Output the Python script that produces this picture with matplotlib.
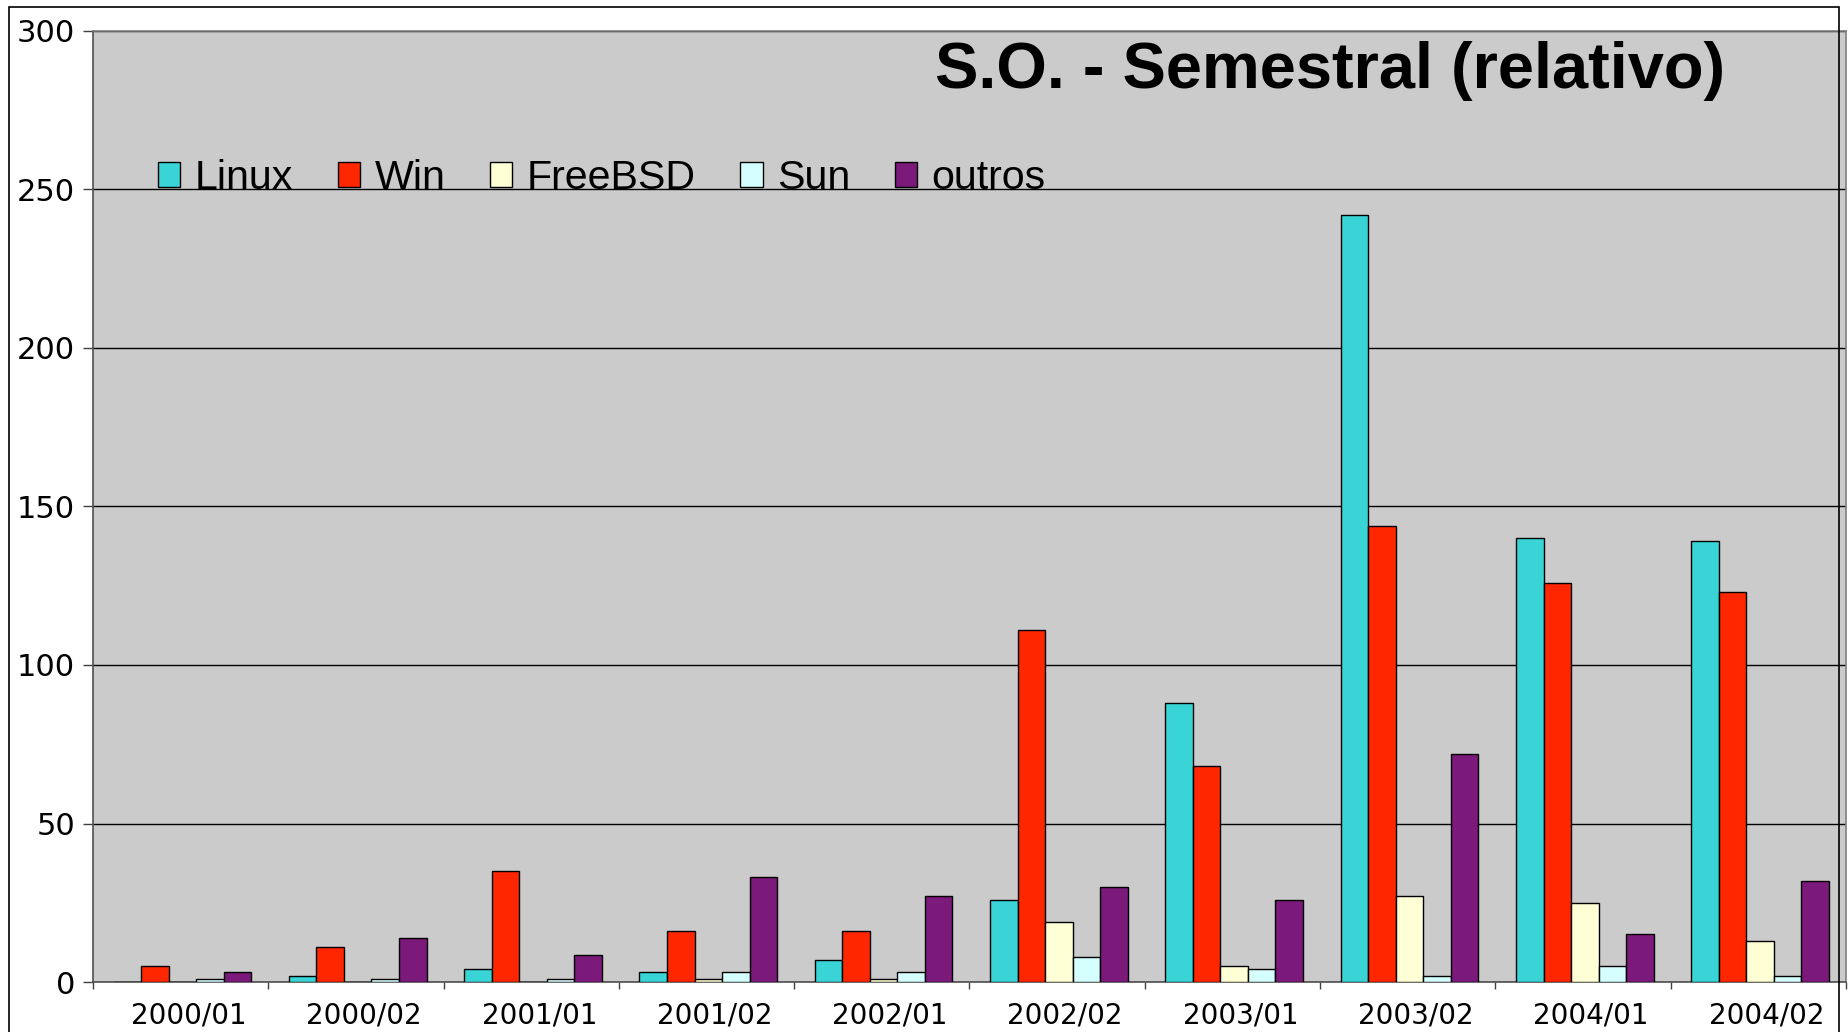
import numpy as np
import matplotlib.pyplot as plt
import matplotlib.transforms as mtransforms
from matplotlib.patches import Rectangle

# Data
semesters = ['2000/01', '2000/02', '2001/01', '2001/02', '2002/01',
             '2002/02', '2003/01', '2003/02', '2004/01', '2004/02']
linux = [0, 2, 4, 3, 7, 26, 88, 242, 140, 139]
win = [5, 11, 35, 16, 16, 111, 68, 144, 126, 123]
freebsd = [0, 0, 0, 1, 1, 19, 5, 27, 25, 13]
sun = [1, 1, 1, 3, 3, 8, 4, 2, 5, 2]
outros = [3, 14, 8.5, 33, 27, 30, 26, 72, 15, 32]

series = [('Linux', linux, '#38d4d6'),
          ('Win', win, '#ff2600'),
          ('FreeBSD', freebsd, '#ffffd5'),
          ('Sun', sun, '#d5ffff'),
          ('outros', outros, '#7b1a7b')]

W, H = 1849, 1032
fig = plt.figure(figsize=(W / 100, H / 100), dpi=100)
ax = fig.add_axes([93 / W, 1 - 982 / H, (1846 - 93) / W, (982 - 31) / H])
ax.set_facecolor('#cbcbcb')

x = np.arange(len(semesters))
bw = 0.157
for i, (name, vals, col) in enumerate(series):
    ax.bar(x + (i - 2) * bw + 0.01, vals, width=bw, color=col,
           edgecolor='black', linewidth=1.0, label=name, zorder=3)

ax.set_xlim(-0.5, len(semesters) - 0.5)
ax.set_ylim(0, 300)
ax.set_yticks(np.arange(0, 301, 50))
ax.yaxis.grid(True, color='black', linewidth=1.0, zorder=1)
ax.set_axisbelow(True)
ax.tick_params(axis='y', direction='out', length=7, width=1, color='#404040',
               pad=6, labelsize=22)

# category boundaries as ticks, labels centered in between
ax.set_xticks(np.arange(-0.5, len(semesters), 1))
ax.set_xticklabels([])
ax.set_xticks(x, minor=True)
ax.set_xticklabels(semesters, minor=True, fontsize=20)
ax.tick_params(axis='x', which='major', direction='out', length=5, width=1, color='#404040')
ax.tick_params(axis='x', which='minor', length=0, pad=14)
offset = mtransforms.ScaledTranslation(8 / 100, 0, fig.dpi_scale_trans)
for lbl in ax.get_xticklabels(minor=True):
    lbl.set_transform(lbl.get_transform() + offset)

for side in ['left', 'bottom']:
    ax.spines[side].set_color('#505050')
    ax.spines[side].set_linewidth(1.2)
for side in ['top', 'right']:
    ax.spines[side].set_color('#808080')
    ax.spines[side].set_linewidth(1.2)

fig.text(935 / W, 1 - 88 / H, 'S.O. - Semestral (relativo)', fontsize=46.8,
         fontweight='bold', family='Liberation Sans', ha='left', va='baseline')

leg = ax.legend(loc='lower left', bbox_to_anchor=(158 / W, 1 - 197 / H),
                bbox_transform=fig.transFigure, ncol=5, frameon=False,
                prop={'family': 'Liberation Sans', 'size': 29.6},
                handlelength=0.54, handleheight=0.54, handletextpad=0.35,
                columnspacing=1.09, borderpad=0, borderaxespad=0)

# outer chart frame
fig.add_artist(Rectangle((9 / W, -0.05), (1839 - 9) / W, 1.05 - 7 / H,
                         transform=fig.transFigure, fill=False,
                         edgecolor='black', linewidth=1.2))

plt.savefig('out.png', dpi=100)
